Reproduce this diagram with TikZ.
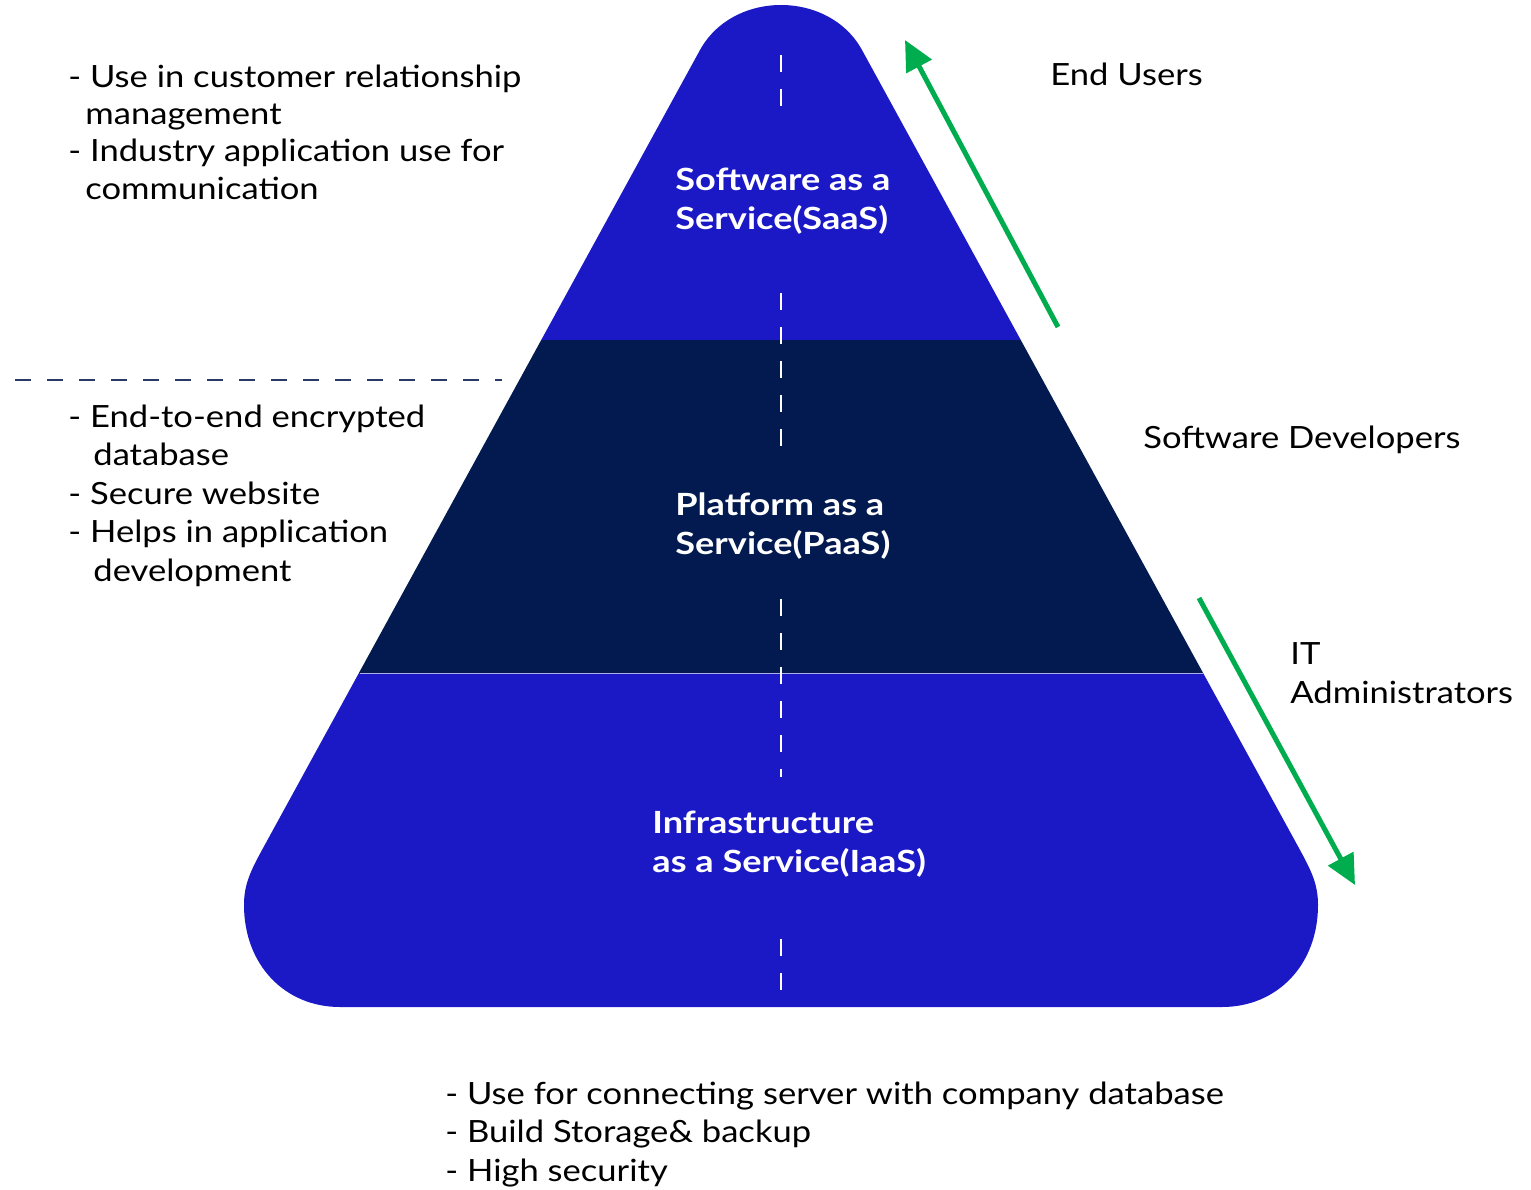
\documentclass[tikz,border=0pt]{standalone}
\usepackage{fontspec}
\setmainfont{Lato}[FakeStretch=1.13]
\newfontfamily\lblfont{Lato}[FakeStretch=1.18]
\usetikzlibrary{arrows.meta}
\definecolor{pblue}{HTML}{1B19C6}
\definecolor{pnavy}{HTML}{021A4F}
\definecolor{pgreen}{HTML}{00AD4E}
\definecolor{dline}{HTML}{2A3A66}
\begin{document}
\begin{tikzpicture}[x=0.5pt,y=-0.5pt,
  body/.style={font=\fontsize{15.3}{19.25}\selectfont, align=left, anchor=base west, inner sep=0pt, text=black},
  tight/.style={body, font=\fontsize{15.3}{18.65}\selectfont},
  layer/.style={font=\fontsize{15.3}{19.1}\selectfont\lblfont\bfseries, align=left, anchor=base west, inner sep=0pt, text=white},
  cut/.style={draw=white, line width=1pt, dash pattern=on 8.5pt off 8.5pt},
  sep/.style={draw=dline, line width=1pt, dash pattern=on 8pt off 8pt},
  flow/.style={draw=pgreen, line width=2.5pt, -{Triangle[length=15pt,width=14pt]}},
]
\useasboundingbox (0,0) rectangle (1531,1189);
\def\pyr{(340,1007) .. controls (285,1007) and (244,965) .. (244,905)
  .. controls (244,885) and (250,872) .. (262,850)
  -- (700,50) .. controls (733,-10) and (829,-10) .. (862,50)
  -- (1300,850) .. controls (1312,872) and (1318,885) .. (1318,905)
  .. controls (1318,965) and (1277,1007) .. (1222,1007) -- cycle}
\begin{scope}
  \clip \pyr;
  \fill[pblue] (0,0) rectangle (1531,340);
  \fill[pnavy] (0,340) rectangle (1531,673);
  \fill[pblue] (0,673) rectangle (1531,1100);
\end{scope}
\draw[white!65!pblue, line width=0.8pt] (360,673.5) -- (1203,673.5);
% white centre dashes
\draw[cut] (781,55) -- (781,107);
\draw[cut] (781,293) -- (781,446);
\draw[cut] (781,599) -- (781,777);
\draw[cut] (781,939) -- (781,991);
% left separator
\draw[sep] (15,380) -- (502,380);
% layer labels (anchored at the baseline of their last line)
\node[layer] (saas) at (675,229) {Software as a\\Service(SaaS)};
\node[layer] (paas) at (675,554) {Platform as a\\Service(PaaS)};
\node[layer] (iaas) at (652,872) {Infrastructure\\as a Service(IaaS)};
% descriptions
\node[tight] (d1) at (68,199) {- Use in customer relationship\\\hspace*{8.5pt}management\\- Industry application use for\\\hspace*{8.5pt}communication};
\node[body] (d2) at (68,581) {- End-to-end encrypted\\\hspace*{12.5pt}database\\- Secure website\\- Helps in application\\\hspace*{12.5pt}development};
\node[body] (d3) at (445,1181) {- Use for connecting server with company database\\- Build Storage\& backup\\- High security};
% audiences
\node[body] (u1) at (1050,85) {End Users};
\node[body] (u2) at (1143,448) {Software Developers};
\node[body] (u3) at (1290,703) {IT\\Administrators};
% arrows
\coordinate (a1s) at (1058,327);
\coordinate (a1e) at (905,40);
\coordinate (a2s) at (1199,598);
\coordinate (a2e) at (1355,885);
\draw[flow] (a1s) -- (a1e);
\draw[flow] (a2s) -- (a2e);
\end{tikzpicture}
\end{document}
